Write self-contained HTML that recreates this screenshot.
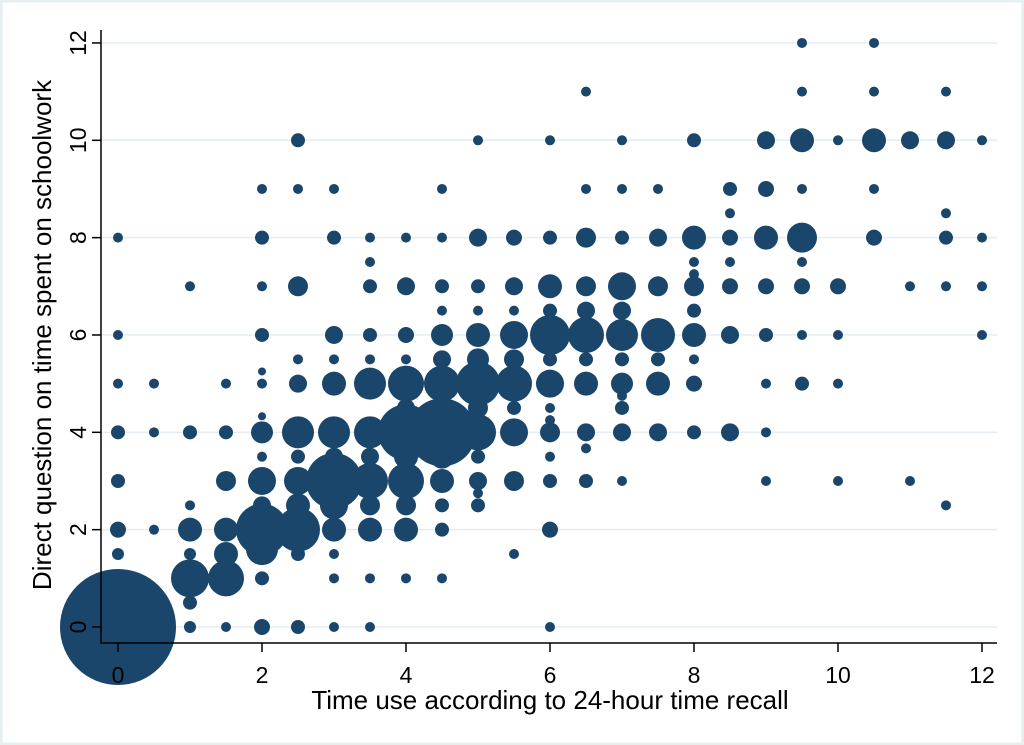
<!DOCTYPE html>
<html><head><meta charset="utf-8"><style>
html,body{margin:0;padding:0;background:#fff}
svg{display:block}
text{font-family:"Liberation Sans",Arial,sans-serif;fill:#000}
</style></head><body>
<svg id="s" width="1024" height="745" xmlns="http://www.w3.org/2000/svg">
<rect x="1" y="1" width="1022" height="743" fill="#fff" stroke="#e6eef0" stroke-width="3"/>
<g id="grid" stroke="#e3edf0" stroke-width="1.5"></g>
<g id="pts" fill="#1a466c"></g>
<line x1="101" y1="30" x2="101" y2="644" stroke="#000" stroke-width="1.5"/>
<line x1="101" y1="643" x2="997" y2="643" stroke="#000" stroke-width="1.5"/>
<g id="ticks" stroke="#000" stroke-width="1.5"></g>
<g id="lab" font-size="23"></g>
<text x="550" y="709" font-size="26" text-anchor="middle">Time use according to 24-hour time recall</text>
<text transform="translate(51,335) rotate(-90)" font-size="26" text-anchor="middle">Direct question on time spent on schoolwork</text>
</svg>
<script>
var X=function(v){return 118+v*72},Y=function(v){return 627-v*48.67};
var ns="http://www.w3.org/2000/svg";
function el(p,t,a,txt){var e=document.createElementNS(ns,t);for(var k in a)e.setAttribute(k,a[k]);if(txt!==undefined)e.textContent=txt;document.getElementById(p).appendChild(e);}
for(var i=0;i<=12;i+=2){
el("grid","line",{x1:102,x2:997,y1:Y(i),y2:Y(i)});
el("ticks","line",{x1:X(i),x2:X(i),y1:643,y2:652});
el("ticks","line",{x1:92,x2:101,y1:Y(i),y2:Y(i)});
el("lab","text",{x:X(i),y:683,"text-anchor":"middle"},""+i);
el("lab","text",{transform:"translate(86,"+Y(i)+") rotate(-90)","text-anchor":"middle"},""+i);
}
var d={
0:[[8,5],[6,5],[5,5],[4,7],[3,7],[2,8],[1.5,6],[0,58]],
0.5:[[5,5],[4,5],[2,5]],
1:[[7,5],[4,7],[2.5,5],[2,12],[1.5,6],[1,19],[0.5,7],[0,6]],
1.5:[[5,5],[4,7],[3,10],[2,12],[1.5,12],[1,18],[0,5]],
2:[[9,5],[8,7],[7,5],[6,7],[5.25,4],[5,5],[4.33,4],[4,11],[3.5,5],[3,14],[2.5,9],[2,26],[1.6,16],[1,7],[0,8]],
2.5:[[10,7],[9,5],[7,10],[5.5,5],[5,9],[4,16],[3.5,7],[3,14],[2.5,12],[2,22],[1.5,7],[0,7]],
3:[[9,5],[8,7],[6,9],[5.5,5],[5,12],[4,16],[3.5,9],[3,28],[2.5,14],[2,12],[1.5,5],[1,5],[0,5]],
3.5:[[8,5],[7.5,5],[7,7],[6,7],[5.5,5],[5,16],[4,16],[3.5,9],[3,18],[2.5,10],[2,12],[1,5],[0,5]],
4:[[8,5],[7,9],[6,8],[5.5,5],[5,18],[4.5,9],[4,28],[3.5,12],[3,18],[2.5,10],[2,12],[1,5]],
4.5:[[9,5],[8,5],[7,7],[6.5,5],[6,11],[5.5,9],[5,18],[4,34],[3.5,12],[3,12],[2.5,7],[2,7],[1,5]],
5:[[10,5],[8,9],[7,7],[6.5,5],[6,12],[5.5,11],[5,22],[4.5,10],[4,18],[3.5,7],[3,9],[2.75,5],[2.5,7]],
5.5:[[8,8],[7,9],[6.5,5],[6,14],[5.5,10],[5,18],[4.5,7],[4,14],[3,10],[1.5,5]],
6:[[10,5],[8,7],[7,12],[6.5,7],[6,20],[5.5,7],[5,14],[4.5,5],[4.25,5],[4,10],[3.5,5],[3,7],[2,8],[0,5]],
6.5:[[11,5],[9,5],[8,10],[7,10],[6.5,9],[6,18],[5.5,7],[5,12],[4,9],[3.67,5],[3,7]],
7:[[10,5],[9,5],[8,7],[7,14],[6.5,9],[6,16],[5.5,7],[5,11],[4.75,5],[4.5,7],[4,9],[3,5]],
7.5:[[9,5],[8,9],[7,10],[6,17],[5.5,7],[5,12],[4,9]],
8:[[10,7],[8,12],[7.5,5],[7.25,5],[7,10],[6.5,7],[6,12],[5.5,5],[5,8],[4,7]],
8.5:[[9,7],[8.5,5],[8,8],[7.5,5],[7,8],[6,9],[4,9]],
9:[[10,9],[9,8],[8,12],[7,8],[6,7],[5,5],[4,5],[3,5]],
9.5:[[12,5],[11,5],[10,12],[9,5],[8,15],[7.5,5],[7,8],[6,5],[5,7]],
10:[[10,5],[7,8],[6,5],[5,5],[3,5]],
10.5:[[12,5],[11,5],[10,12],[9,5],[8,8]],
11:[[10,9],[7,5],[3,5]],
11.5:[[11,5],[10,9],[8.5,5],[8,7],[7,5],[2.5,5]],
12:[[10,5],[8,5],[7,5],[6,5]]
};
for(var k in d){d[k].forEach(function(p){el("pts","circle",{cx:X(+k),cy:Y(p[0]),r:p[1]});});}
</script>
</body></html>
